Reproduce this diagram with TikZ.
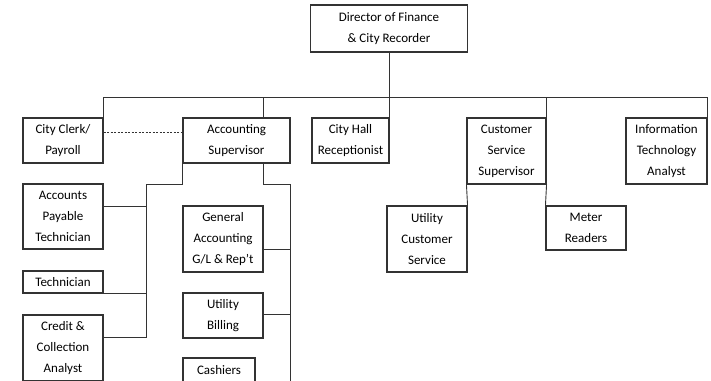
\documentclass[tikz,border=0pt]{standalone}
\usepackage{fontspec}
\setmainfont{Carlito}
\usetikzlibrary{positioning}

\begin{document}
\begin{tikzpicture}[x=1pt,y=-1pt,line width=0.9pt,
  box/.style={draw=black!80,line width=1.1pt,align=center,inner sep=0pt,
    font=\fontsize{13}{21}\selectfont},
  link/.style={draw=black!80}]
\useasboundingbox (0,0) rectangle (711,380);
\clip (0,0) rectangle (711,380);
% ---- top ----
\node[box,minimum width=157,minimum height=47] (dir) at (389,28.5) {Director of Finance\\\& City Recorder};
% ---- second row ----
\node[box,minimum width=80,minimum height=45] (clerk) at (63,140.5) {City Clerk/\\Payroll};
\node[box,minimum width=107,minimum height=45] (acct) at (236.5,140.5) {Accounting\\Supervisor};
\node[box,minimum width=77,minimum height=45] (hall) at (350.5,140.5) {City Hall\\Receptionist};
\node[box,minimum width=79,minimum height=66] (css) at (506.5,151) {Customer\\Service\\Supervisor};
\node[box,minimum width=81,minimum height=66] (it) at (666.5,151) {Information\\Technology\\Analyst};
% ---- under accounting ----
\node[box,minimum width=80,minimum height=65] (ap) at (63,216.5) {Accounts\\Payable\\Technician};
\node[box,minimum width=80,minimum height=22] (tech) at (63,282) {Technician};
\node[box,minimum width=80,minimum height=66] (credit) at (63,348) {Credit \&\\Collection\\Analyst};
\node[box,minimum width=80,minimum height=66] (gen) at (223,239) {General\\Accounting\\G/L \& Rep't};
\node[box,minimum width=80,minimum height=45] (bill) at (223,315.5) {Utility\\Billing};
\node[box,minimum width=72,minimum height=24] (cash) at (219,370) {Cashiers};
% ---- under customer service ----
\node[box,minimum width=80,minimum height=66] (ucs) at (427,239) {Utility\\Customer\\Service};
\node[box,minimum width=80,minimum height=44] (meter) at (586,228) {Meter\\Readers};
% ---- lines ----
\coordinate (bus) at (0,97);
\coordinate (lspine) at (146,184);
\coordinate (rspine) at (290,184);
\draw[link] (dir.south) -- (dir.south |- bus);
\draw[link] (clerk.north east) -- (clerk.north east |- bus) -- (it.north east |- bus) -- (it.north east);
\draw[link] (gen.east |- bus) -- (gen.east |- acct.north);
\draw[link] (hall.north east |- bus) -- (hall.north east);
\draw[link] (css.north east |- bus) -- (css.north east);
\draw[link,dashed,dash pattern=on 2pt off 1.5pt] ([yshift=8pt]clerk.east) -- ([yshift=8pt]acct.west);
% left spine
\draw[link] (acct.south west) |- (lspine);
\draw[link] ([yshift=10.5pt]ap.east) -| (lspine);
\draw[link] (tech.south east) -| (lspine);
\draw[link] ([yshift=11pt]credit.east) -| (lspine);
% right spine
\draw[link] (gen.east |- acct.south) |- (rspine) -- (rspine |- 0,400);
\draw[link] ([yshift=-10pt]gen.east) -| (rspine);
\draw[link] ([yshift=1.5pt]bill.east) -| (rspine);
% customer service
\draw[link] (css.south west) -- (ucs.north east);
\draw[link] (css.south east) -- (meter.north west);
\end{tikzpicture}
\end{document}
